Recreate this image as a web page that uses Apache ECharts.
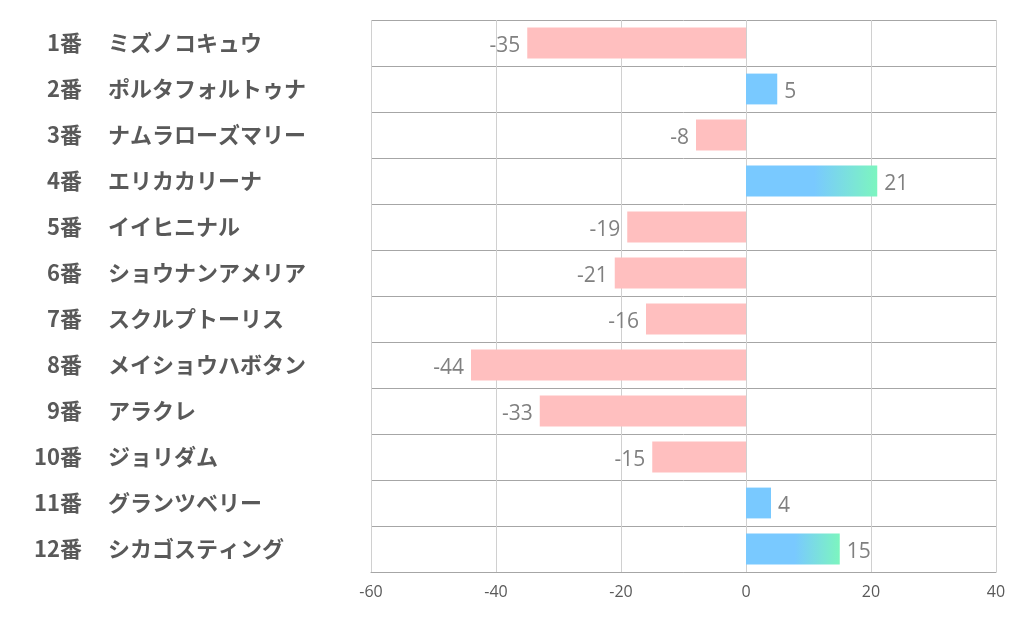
<!DOCTYPE html>
<html><head><meta charset="utf-8">
<script src="https://cdn.jsdelivr.net/npm/echarts@6/dist/echarts.min.js"></script>
<style>html,body{margin:0;padding:0;background:#fff}#c{width:1022px;height:626px}</style>
</head><body><div id="c"></div>
<script>
const numbers = ['1番','2番','3番','4番','5番','6番','7番','8番','9番','10番','11番','12番'];
const names = ['ミズノコキュウ','ポルタフォルトゥナ','ナムラローズマリー','エリカカリーナ','イイヒニナル','ショウナンアメリア','スクルプトーリス','メイショウハボタン','アラクレ','ジョリダム','グランツベリー','シカゴスティング'];
const values = [-35, 5, -8, 21, -19, -21, -16, -44, -33, -15, 4, 15];
const xTicks = [-60, -40, -20, 0, 20, 40];

const font = '"Noto Sans CJK JP", "Noto Sans", sans-serif';
const numFont = '"Open Sans", "Noto Sans", sans-serif';

const barData = values.map(v => {
  let color;
  if (v < 0) color = '#FFBFBF';
  else if (v >= 10) color = {type:'linear', x:0, y:0, x2:1, y2:0, colorStops:[
    {offset:0, color:'#79C9FF'}, {offset:0.52, color:'#79C9FF'}, {offset:1, color:'#7CF5BF'}]};
  else color = '#79C9FF';
  return {
    value: v,
    itemStyle: {color},
    label: {position: v < 0 ? 'left' : 'right'}
  };
});

const chart = echarts.init(document.getElementById('c'));
chart.setOption({
  animation: false,
  grid: {left: 371, right: 26, top: 20, bottom: 54, containLabel: false},
  xAxis: {
    type: 'value', min: xTicks[0], max: xTicks[xTicks.length-1], interval: 20,
    axisLine: {show: true, lineStyle: {color: '#A6A6A6'}},
    axisTick: {show: false},
    axisLabel: {color: '#595959', fontSize: 16, fontFamily: numFont, margin: 12},
    splitLine: {show: true, lineStyle: {color: '#D0D0D0', width: 1}}
  },
  yAxis: [{
    type: 'category', data: names, inverse: true,
    axisLine: {show: false},
    axisTick: {show: false},
    splitLine: {show: true, lineStyle: {color: '#A6A6A6', width: 1}},
    axisLabel: {align: 'left', margin: 263, fontSize: 22, fontWeight: 'bold', color: '#595959', fontFamily: font}
  }, {
    type: 'category', data: numbers, inverse: true, position: 'left',
    axisLine: {show: false},
    axisTick: {show: false},
    splitLine: {show: false},
    axisLabel: {align: 'right', margin: 289, fontSize: 22, fontWeight: 'bold', color: '#595959', fontFamily: font}
  }],
  series: [{
    type: 'bar', data: barData, barCategoryGap: '33%', yAxisIndex: 0,
    label: {show: true, color: '#808080', fontSize: 21, fontFamily: numFont, distance: 7, offset: [0, 3]},
  }]
});
</script></body></html>
